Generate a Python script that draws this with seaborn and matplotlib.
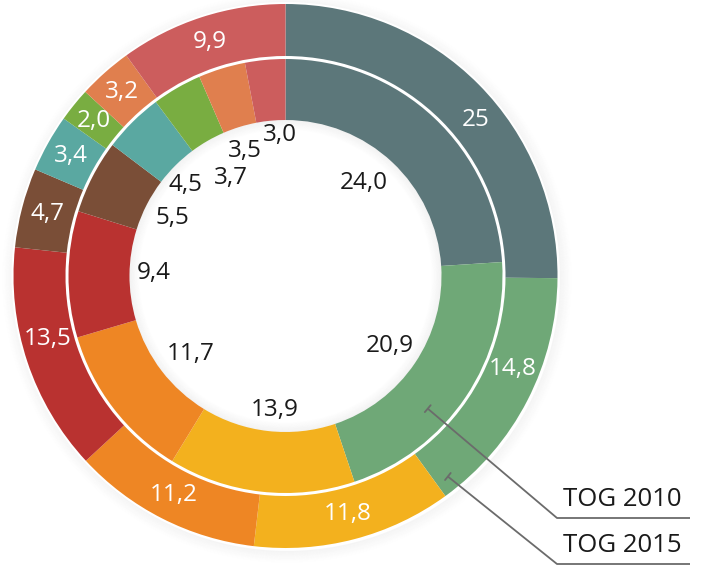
import numpy as np
import matplotlib
import matplotlib.pyplot as plt
import seaborn as sns
from matplotlib.patches import Wedge, Circle

# TOG 2015 (outer ring) and TOG 2010 (inner ring), clockwise from 12 o'clock
outer_values = [25, 14.8, 11.8, 11.2, 13.5, 4.7, 3.4, 2.0, 3.2, 9.9]
outer_labels = ["25", "14,8", "11,8", "11,2", "13,5", "4,7", "3,4", "2,0", "3,2", "9,9"]
inner_values = [24.0, 20.9, 13.9, 11.7, 9.4, 5.5, 4.5, 3.7, 3.5, 3.0]
inner_labels = ["24,0", "20,9", "13,9", "11,7", "9,4", "5,5", "4,5", "3,7", "3,5", "3,0"]
ring_names = ["TOG 2010", "TOG 2015"]

colors = sns.color_palette([
    "#5c777a", "#6fa877", "#f3b11e", "#ee8624", "#b93230",
    "#7a4e37", "#5aa8a1", "#79ad41", "#e07f4e", "#cc5d5d",
])

sns.set_theme(style="white")
plt.rcParams['font.family'] = ['Open Sans', 'DejaVu Sans']

W, H = 705, 568
fig = plt.figure(figsize=(W / 100, H / 100), dpi=100)
ax = fig.add_axes([0, 0, 1, 1])

cx, cy = 285.5, 292
r_out, w_out = 272, 52
r_in, w_in = 217, 61
r_hole = r_in - w_in

# soft shadow outside the outer ring
for i in range(12):
    ax.add_patch(Wedge((cx + 1.5, cy - 2), r_out + 2 + i, 0, 360, width=1.2,
                       facecolor="#000000", alpha=0.035 * (1 - i / 12), lw=0))
ax.add_patch(Circle((cx, cy), r_out + 2, facecolor="white", lw=0))

ax.pie(outer_values, colors=colors, startangle=90, counterclock=False,
       center=(cx, cy), radius=r_out,
       wedgeprops=dict(width=w_out, edgecolor="none", linewidth=0))
ax.pie(inner_values, colors=colors, startangle=90, counterclock=False,
       center=(cx, cy), radius=r_in,
       wedgeprops=dict(width=w_in, edgecolor="none", linewidth=0))

# shadow inside the hole
for i in range(10):
    ax.add_patch(Wedge((cx, cy), r_hole - i, 0, 360, width=1.0,
                       facecolor="#000000", alpha=0.05 * (1 - i / 10), lw=0))


def mid_angles(values):
    vals = np.asarray(values, dtype=float)
    cum = np.cumsum(vals) - vals / 2
    return np.deg2rad(90 - 360 * cum / vals.sum())


# some labels sit a little off their slice centre (degrees, + = counterclockwise)
outer_shift = [-5.5, 5, 0, 0, -3.5, 0, 0, 0, 0, 0]
for ang, lab, s in zip(mid_angles(outer_values), outer_labels, outer_shift):
    ang = ang + np.deg2rad(s)
    r = r_out - w_out / 2
    ax.text(cx + r * np.cos(ang), cy + r * np.sin(ang), lab, color="white",
            fontsize=17.5, ha="center", va="center")

inner_label_r = [122, 125, 134, 123, 132, 127, 135, 112, 132, 141]
inner_shift = [3, 0, 2, 2, -1, 0, 3, -1, 1, -3]
for ang, lab, r, s in zip(mid_angles(inner_values), inner_labels, inner_label_r, inner_shift):
    ang = ang + np.deg2rad(s)
    ax.text(cx + r * np.cos(ang), cy + r * np.sin(ang), lab, color="#1a1a1a",
            fontsize=17.5, ha="center", va="center")

# leader lines to the ring names
line_col = "#6b6b6b"
leaders = [(-43, r_in - w_in / 2 + 8, 50), (-51, r_out - w_out / 2 + 12, 4)]
for (deg, r, ly), name in zip(leaders, ring_names):
    a = np.deg2rad(deg)
    sx, sy = cx + r * np.cos(a), cy + r * np.sin(a)
    ex = 557
    ax.plot([sx, ex, 690], [sy, ly, ly], color=line_col, lw=1.3,
            solid_capstyle="butt")
    d = np.array([ex - sx, ly - sy])
    d /= np.hypot(*d)
    p = np.array([-d[1], d[0]]) * 4.5
    ax.plot([sx - p[0], sx + p[0]], [sy - p[1], sy + p[1]], color=line_col, lw=1.3)
    ax.text(563, ly + 6, name, fontsize=18.5, color="#1a1a1a", ha="left", va="bottom")

ax.set_xlim(0, W)
ax.set_ylim(0, H)
ax.set_aspect("equal")
ax.axis("off")

fig.savefig("out.png", dpi=100)
